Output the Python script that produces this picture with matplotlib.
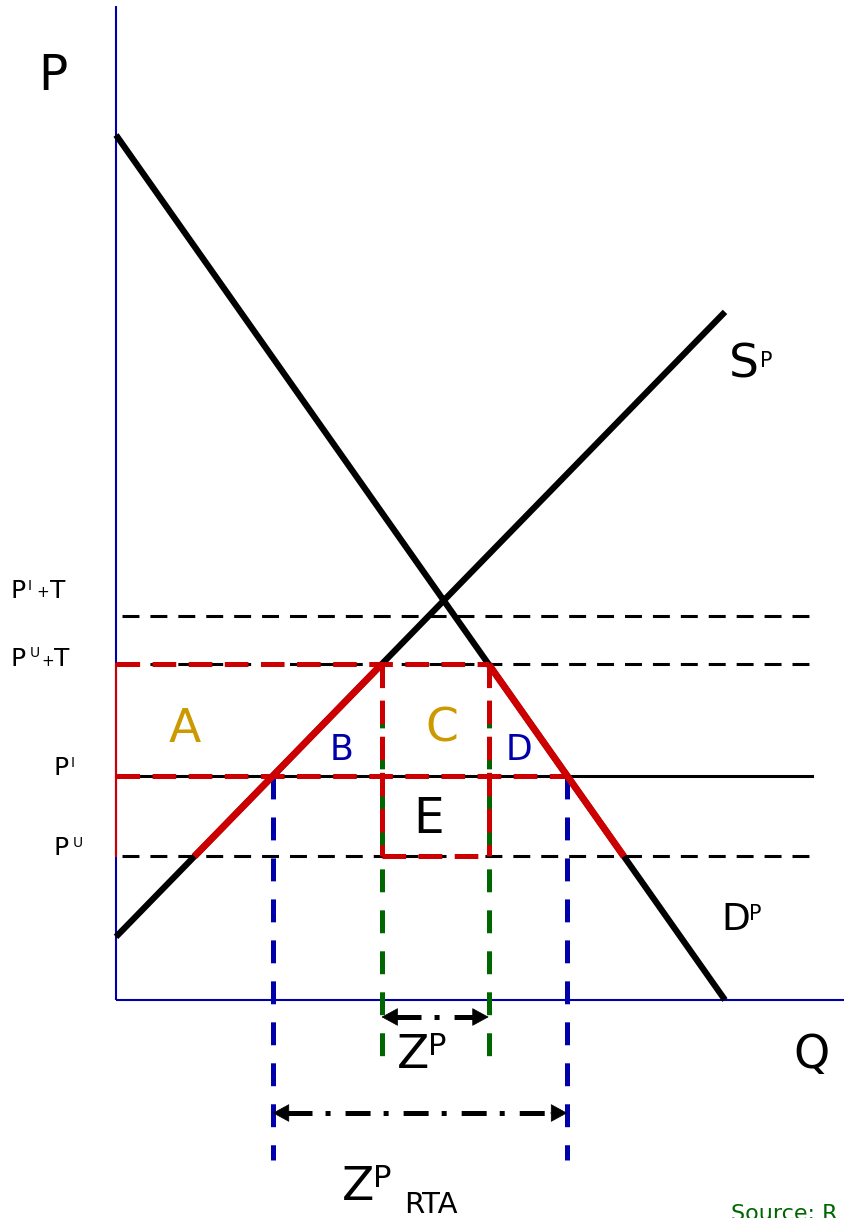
import matplotlib
matplotlib.use("Agg")
import matplotlib.pyplot as plt
import numpy as np

plt.rcParams['font.family'] = ['DejaVu Sans']
plt.rcParams['lines.scale_dashes'] = False

# ---------------- data (economic units) ----------------
demand_intercept_P = 10.0      # demand: P = a - b*Q
demand_slope = 1.0
supply_intercept_P = 0.73      # supply: P = c + d*Q
supply_slope = 0.7225
curve_Q_max = 10.0

price_names = ["P_IT", "P_UT", "P_I", "P_U"]
price_values = [4.44, 3.88, 2.59, 1.66]
price_labels_main = ["P", "P", "P", "P"]
price_labels_sup = ["I", "U", "I", "U"]

P_IT, P_UT, P_I, P_U = price_values

def qd(p):
    return (demand_intercept_P - p) / demand_slope

def qs(p):
    return (p - supply_intercept_P) / supply_slope

# ---------------- layout (pixel mapping) ----------------
W, H = 845, 1218
ox, oy = 116, 1000          # origin in pixels
sx, sy = 60.9, 86.5         # pixels per unit

def px(x, y):
    return ((x - ox) / sx, (oy - y) / sy)

fig = plt.figure(figsize=(W / 100, H / 100), dpi=100)
ax = fig.add_axes([0, 0, 1, 1])
ax.set_xlim(-ox / sx, (W - ox) / sx)
ax.set_ylim(-(H - oy) / sy, oy / sy)
ax.axis('off')

BLUE = '#0000aa'
RED = '#cc0000'
GREEN = '#006600'
GOLD = '#cc9900'

# axes
ytop = px(0, 6)[1]
xright = px(W + 10, 0)[0]
ax.plot([0, 0], [0, ytop], color=BLUE, lw=1.5, zorder=2, solid_capstyle='butt')
ax.plot([0, xright], [0, 0], color=BLUE, lw=1.5, zorder=2, solid_capstyle='butt')

# horizontal price lines
hx0 = px(122, 0)[0]
hx1 = px(812, 0)[0]
blk_dash = (0, (12.2, 7.9))
for p in (P_IT, P_UT, P_U):
    ax.plot([hx0, hx1], [p, p], color='k', lw=2.2, ls=blk_dash, zorder=3)
ax.plot([0, hx1], [P_I, P_I], color='k', lw=2.2, zorder=3)

# curves
q = np.array([0.0, curve_Q_max])
ax.plot(q, demand_intercept_P - demand_slope * q,
        color='k', lw=4.5, zorder=4, solid_capstyle='butt')
ax.plot(q, supply_intercept_P + supply_slope * q, color='k', lw=4.5, zorder=4,
        solid_capstyle='butt')

# vertical guides
green_bottom = px(0, 1065)[1]
blue_bottom = px(0, 1160)[1]
vdash = (0, (16.5, 13.0))
for qq in (qs(P_UT), qd(P_UT)):
    ax.plot([qq, qq], [P_UT, green_bottom], color=GREEN, lw=3.6, ls=vdash, zorder=5)
for qq in (qs(P_I), qd(P_I)):
    ax.plot([qq, qq], [P_I, blue_bottom], color=BLUE, lw=3.6, ls=vdash, zorder=5)

# red outlines
red_dash = (0, (17.0, 9.0))
ax.plot([0, qd(P_UT)], [P_UT, P_UT], color=RED, lw=3.6, ls=red_dash, zorder=6)
ax.plot([0, qd(P_I)], [P_I, P_I], color=RED, lw=3.6, ls=red_dash, zorder=6)
ax.plot([qs(P_UT), qd(P_UT)], [P_U, P_U], color=RED, lw=3.6, ls=red_dash, zorder=6)
for qq in (qs(P_UT), qd(P_UT)):
    ax.plot([qq, qq], [P_UT, P_U], color=RED, lw=3.6, ls=red_dash, zorder=6)
ax.plot([0, 0], [P_U, P_UT], color=RED, lw=1.5, zorder=6)
ax.plot([qs(P_U), qs(P_UT)], [P_U, P_UT], color=RED, lw=5.0, zorder=6,
        solid_capstyle='butt')
ax.plot([qd(P_UT), qd(P_U)], [P_UT, P_U], color=RED, lw=5.0, zorder=6,
        solid_capstyle='butt')

# double arrows
def double_arrow(q0, q1, y):
    hl = 14 / sx
    ax.plot([q0 + hl, q1 - hl], [y, y], color='k', lw=3.6,
            ls=(0, (18, 9.4, 3.6, 10.8)), zorder=7, solid_capstyle='butt',
            dash_capstyle='butt')
    for tip, tail in ((q0, q0 + hl * 1.2), (q1, q1 - hl * 1.2)):
        ax.annotate('', xy=(tip, y), xytext=(tail, y),
                    arrowprops=dict(arrowstyle='-|>,head_length=0.55,head_width=0.3',
                                    mutation_scale=20, color='k', lw=0.5,
                                    shrinkA=0, shrinkB=0), zorder=7)

double_arrow(qs(P_UT), qd(P_UT), px(0, 1017)[1])
double_arrow(qs(P_I), qd(P_I), px(0, 1113)[1])

# ---------------- texts ----------------
def txt(x, y, s, size, color='k'):
    X, Y = px(x, y)
    ax.text(X, Y, s, fontsize=size, color=color, ha='left', va='baseline', zorder=8)

txt(38, 90, "P", 35)
txt(729, 378, "S", 34)
txt(760, 367, "P", 15)
txt(721, 930, "D", 27)
txt(749, 920, "P", 15)
txt(793, 1068, "Q", 33)
txt(397, 1068, "Z", 34)
txt(428, 1055, "P", 22)
txt(342, 1200, "Z", 34)
txt(373, 1187, "P", 22)
txt(404, 1213, "RTA", 21)

# left price labels
main_x = [11, 11, 54, 54]
main_y = [598, 666, 775, 855]
sup_x = [28, 30, 71, 73]
sup_y = [590, 657, 767, 847]
for i in range(len(price_values)):
    txt(main_x[i], main_y[i], price_labels_main[i], 18)
    txt(sup_x[i], sup_y[i], price_labels_sup[i], 10)
# plus signs and T
txt(36, 597, "+", 11)
txt(50, 598, "T", 18)
txt(41, 666, "+", 11)
txt(54, 666, "T", 18)

# area letters
txt(169, 742, "A", 34, GOLD)
txt(330, 760, "B", 25, BLUE)
txt(425, 742, "C", 34, GOLD)
txt(506, 760, "D", 25, BLUE)
txt(413, 833, "E", 35)

txt(731, 1220, "Source: R", 16, GREEN)

fig.savefig("out.png", dpi=100)
